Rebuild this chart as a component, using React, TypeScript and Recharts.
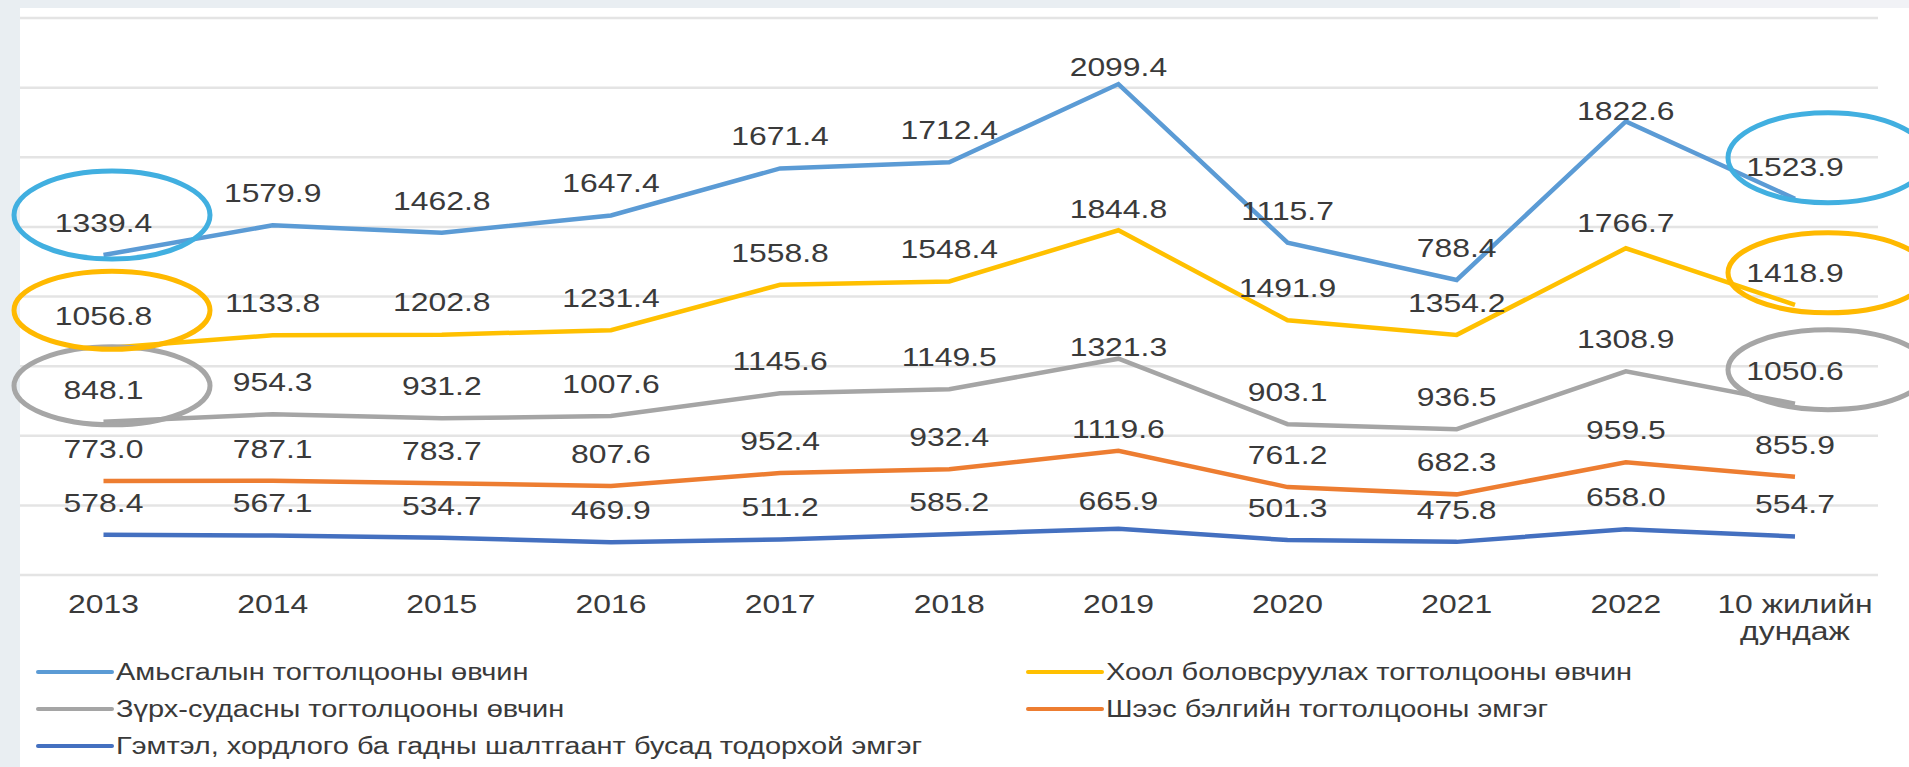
import { Area, AreaChart, CartesianGrid, XAxis, YAxis } from "recharts";

const categories = ["2013", "2014", "2015", "2016", "2017", "2018", "2019", "2020", "2021", "2022", "10 жилийн\nдундаж"];

const respiratory = [1339.4, 1579.9, 1462.8, 1647.4, 1671.4, 1712.4, 2099.4, 1115.7, 788.4, 1822.6, 1523.9];
const digestive = [1056.8, 1133.8, 1202.8, 1231.4, 1558.8, 1548.4, 1844.8, 1491.9, 1354.2, 1766.7, 1418.9];
const circulatory = [848.1, 954.3, 931.2, 1007.6, 1145.6, 1149.5, 1321.3, 903.1, 936.5, 1308.9, 1050.6];
const urogenital = [773.0, 787.1, 783.7, 807.6, 952.4, 932.4, 1119.6, 761.2, 682.3, 959.5, 855.9];
const injury = [578.4, 567.1, 534.7, 469.9, 511.2, 585.2, 665.9, 501.3, 475.8, 658.0, 554.7];

const yTicks = [0, 1000, 2000, 3000, 4000, 5000, 6000, 7000, 8000];

type Series = { key: string; name: string; color: string; values: number[] };

// stacked bottom -> top
const series: Series[] = [
  { key: "injury", name: "Гэмтэл, хордлого ба гадны шалтгаант бусад тодорхой эмгэг", color: "#4470C0", values: injury },
  { key: "urogenital", name: "Шээс бэлгийн тогтолцооны эмгэг", color: "#ED7D31", values: urogenital },
  { key: "circulatory", name: "Зүрх-судасны тогтолцооны өвчин", color: "#A5A5A5", values: circulatory },
  { key: "digestive", name: "Хоол боловсруулах тогтолцооны өвчин", color: "#FFC000", values: digestive },
  { key: "respiratory", name: "Амьсгалын тогтолцооны өвчин", color: "#5B9BD5", values: respiratory },
];

const data = categories.map((name, i) => {
  const row: Record<string, string | number> = { name };
  series.forEach((s) => {
    row[s.key] = s.values[i];
  });
  return row;
});

const TEXT = "#3a3a3a";
const FONT = "'Liberation Sans', Arial, sans-serif";
const STRETCH = 1.25;

// how far each value label sits above its point (px)
const labelLift: Record<string, Record<number, number>> = {
  respiratory: { 6: 17, 9: 10 },
  digestive: { 6: 21, 9: 25 },
  circulatory: { 6: 12 },
  urogenital: { 6: 22 },
  injury: { 6: 27 },
};

// hand-drawn highlight rings around first and last values
const rings: Record<string, { color: string; ry: number; dy: [number, number] }> = {
  respiratory: { color: "#41AFE0", ry: 44, dy: [-40, -41] },
  digestive: { color: "#FFB900", ry: 39, dy: [-38, -32] },
  circulatory: { color: "#A6A6A6", ry: 39, dy: [-36, -34] },
};

function makeLabel(s: Series) {
  return (props: any) => {
    const { x, y, index } = props;
    if (x == null || y == null || index == null) return null;
    const lift = labelLift[s.key]?.[index] ?? 32;
    const ring = rings[s.key];
    const last = categories.length - 1;
    return (
      <g>
        <text
          transform={`translate(${x},${y - lift}) scale(${STRETCH},1)`}
          textAnchor="middle"
          dominantBaseline="central"
          fontSize={25.5}
          fontFamily={FONT}
          fill={TEXT}
        >
          {s.values[index].toFixed(1)}
        </text>
        {ring && index === 0 && (
          <ellipse cx={x + 8.5} cy={y + ring.dy[0]} rx={98} ry={ring.ry} fill="none" stroke={ring.color} strokeWidth={5} />
        )}
        {ring && index === last && (
          <ellipse cx={x + 33} cy={y + ring.dy[1]} rx={100} ry={ring.ry + 1} fill="none" stroke={ring.color} strokeWidth={5} />
        )}
      </g>
    );
  };
}

function CategoryTick(props: any) {
  const { x, y, payload } = props;
  const lines = String(payload.value).split("\n");
  return (
    <g transform={`translate(${x},${y})`}>
      {lines.map((t, i) => (
        <text
          key={i}
          transform={`translate(0,${29 + i * 27}) scale(${STRETCH},1)`}
          textAnchor="middle"
          dominantBaseline="central"
          fontSize={25.5}
          fontFamily={FONT}
          fill={TEXT}
        >
          {t}
        </text>
      ))}
    </g>
  );
}

const legendRows = [
  { key: "respiratory", left: 36, top: 672 },
  { key: "digestive", left: 1026, top: 672 },
  { key: "circulatory", left: 36, top: 709 },
  { key: "urogenital", left: 1026, top: 709 },
  { key: "injury", left: 36, top: 746 },
];

function ChartLegend() {
  return (
    <>
      {legendRows.map((r) => {
        const s = series.find((item) => item.key === r.key)!;
        return (
          <div key={r.key}>
            <div
              style={{
                position: "absolute",
                left: r.left,
                top: r.top - 2,
                width: 78,
                height: 4,
                borderRadius: 2,
                background: s.color,
              }}
            />
            <span
              style={{
                position: "absolute",
                left: r.left + 80,
                top: r.top,
                transform: `translateY(-50%) scaleX(1.26)`,
                transformOrigin: "left center",
                fontFamily: FONT,
                fontSize: 23,
                lineHeight: 1,
                color: TEXT,
                whiteSpace: "nowrap",
              }}
            >
              {s.name}
            </span>
          </div>
        );
      })}
    </>
  );
}

export default function App() {
  return (
    <div
      style={{
        position: "absolute",
        left: 0,
        top: 0,
        width: 1909,
        height: 767,
        overflow: "hidden",
        background: "#e9eef2",
      }}
    >
      <div style={{ position: "absolute", left: 1680, top: 0, width: 229, height: 8, background: "#f1f2f6" }} />
      <div style={{ position: "absolute", left: 20, top: 8, right: 0, bottom: 0, background: "#ffffff" }} />
      <div style={{ position: "absolute", left: 0, top: 0 }}>
        <AreaChart width={1909} height={767} data={data} margin={{ top: 18, right: 31, left: 20, bottom: 132 }}>
          <CartesianGrid vertical={false} stroke="#e4e4e4" strokeWidth={2.5} />
          <XAxis
            dataKey="name"
            tickLine={false}
            axisLine={false}
            tickSize={0}
            tickMargin={0}
            interval={0}
            height={60}
            padding={{ left: 83.5, right: 83 }}
            tick={<CategoryTick />}
          />
          <YAxis hide type="number" domain={[0, 8000]} ticks={yTicks} />
          {series.map((s) => (
            <Area
              key={s.key}
              type="linear"
              dataKey={s.key}
              stackId="total"
              stroke={s.color}
              strokeWidth={4.5}
              fill="none"
              fillOpacity={0}
              dot={false}
              activeDot={false}
              label={makeLabel(s)}
              isAnimationActive={false}
            />
          ))}
        </AreaChart>
      </div>
      <ChartLegend />
    </div>
  );
}
